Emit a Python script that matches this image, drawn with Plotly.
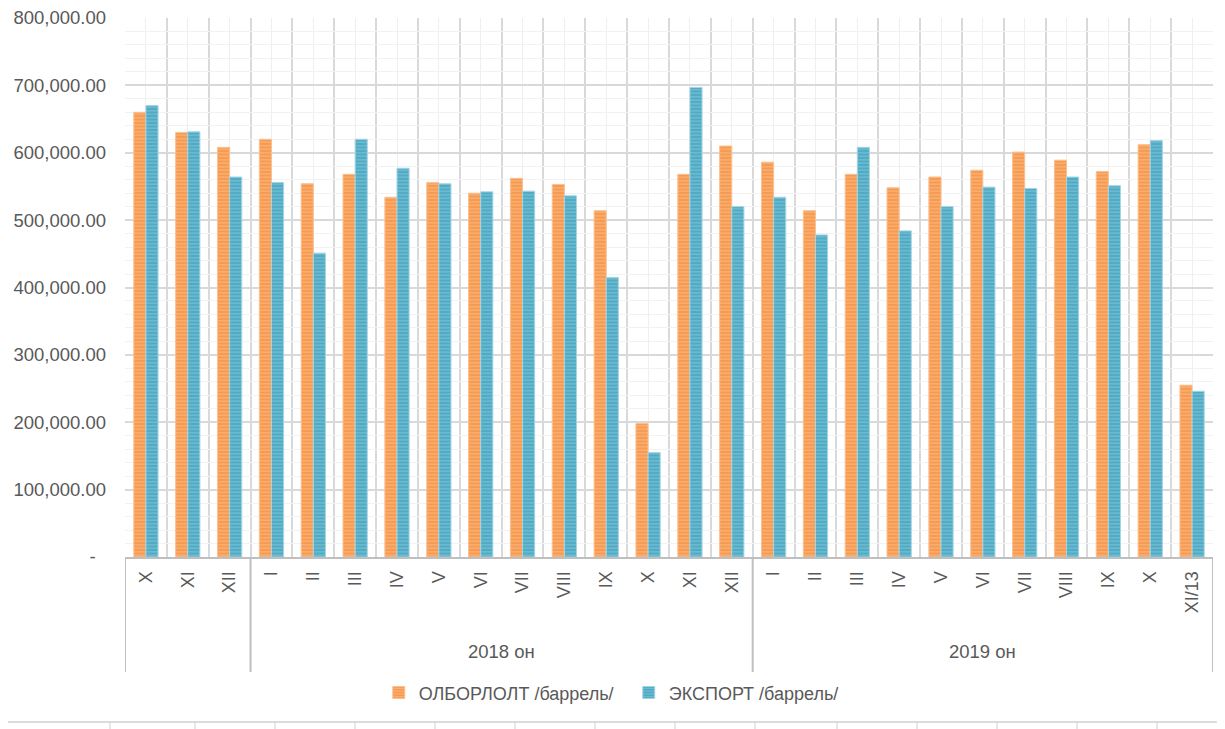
import plotly.graph_objects as go

categories = ["X", "XI", "XII",
              "I", "II", "III", "IV", "V", "VI", "VII", "VIII", "IX", "X", "XI", "XII",
              "I", "II", "III", "IV", "V", "VI", "VII", "VIII", "IX", "X", "XI/13"]
production = [660000, 630000, 608000,
              620000, 554000, 568000, 534000, 556000, 540000, 562000, 553000, 514000, 198000, 568000, 610000,
              586000, 514000, 568000, 548000, 564000, 574000, 601000, 589000, 572000, 612000, 255000]
export = [670000, 631000, 564000,
          556000, 451000, 620000, 577000, 554000, 542000, 543000, 536000, 415000, 155000, 697000, 520000,
          534000, 478000, 608000, 484000, 520000, 549000, 547000, 564000, 551000, 618000, 246000]
series_names = ["ОЛБОРЛОЛТ /баррель/", "ЭКСПОРТ /баррель/"]
groups = [("", 0, 2), ("2018 он", 3, 14), ("2019 он", 15, 25)]
y_ticks = [0, 100000, 200000, 300000, 400000, 500000, 600000, 700000, 800000]

y_ticktext = ["-\u00a0\u00a0"] + [f"{v:,.2f}" for v in y_ticks[1:]]
idx = list(range(len(categories)))

TXT = "#595959"
FONT = "Arial, Liberation Sans, sans-serif"

fig = go.Figure()
fig.add_trace(go.Bar(
    x=idx, y=production, name=series_names[0],
    marker=dict(color="#F79646",
                line=dict(color="#FAC090", width=1),
                pattern=dict(shape="-", fgcolor="#FBCDA6", bgcolor="#F79A50", size=3.5, solidity=0.35)),
))
fig.add_trace(go.Bar(
    x=idx, y=export, name=series_names[1],
    marker=dict(color="#4BACC6",
                line=dict(color="#A5D5E3", width=1),
                pattern=dict(shape="-", fgcolor="#9FD2E1", bgcolor="#4FAAC4", size=3.5, solidity=0.35)),
))

n = len(categories)
fig.update_layout(
    width=1217, height=721,
    margin=dict(l=117, r=12, t=10, b=172, autoexpand=False),
    paper_bgcolor="white", plot_bgcolor="white",
    barmode="group", bargap=0.42, bargroupgap=0,
    font=dict(family=FONT, color=TXT, size=18),
    showlegend=True,
    legend=dict(orientation="h", x=0.463, xanchor="center", y=-0.252, yanchor="middle",
                font=dict(size=18, color=TXT), itemwidth=30, traceorder="normal",
                entrywidth=205, entrywidthmode="pixels"),
    xaxis=dict(
        range=[-0.5, n - 0.5], tickmode="array", tickvals=idx, ticktext=categories,
        tickangle=-90, tickfont=dict(size=18, color=TXT), automargin=False,
        ticklabelstandoff=5,
        showgrid=True, gridcolor="#EFEFEF", gridwidth=1,
        minor=dict(tick0=-0.5, dtick=1, showgrid=True, gridcolor="#D9D9D9", gridwidth=1.5),
        showline=True, linecolor="#BFBFBF", linewidth=2, ticks="", zeroline=False,
        fixedrange=True,
    ),
    yaxis=dict(
        range=[0, 800000], tickmode="array", tickvals=y_ticks, ticktext=y_ticktext,
        tickfont=dict(size=18.5, color=TXT), ticklabelstandoff=18, automargin=False,
        ticklabeloverflow="allow",
        showgrid=True, gridcolor="#D9D9D9", gridwidth=1.5,
        minor=dict(dtick=20000, showgrid=True, gridcolor="#F2F2F2", gridwidth=1),
        zeroline=False, showline=False, ticks="",
    ),
)

# group dividers below the category axis
for b in [-0.5, 2.5, 14.5, n - 0.5]:
    fig.add_shape(type="line", xref="x", yref="paper", x0=b, x1=b, y0=0, y1=-0.2134,
                  line=dict(color="#BFBFBF", width=2))

# group labels
for name, a, b in groups:
    if name:
        fig.add_annotation(x=(a + b) / 2, y=-0.176, xref="x", yref="paper", text=name,
                           showarrow=False, font=dict(size=18.5, color=TXT), yanchor="middle")

# spreadsheet cell lines below the chart
fig.add_shape(type="line", xref="paper", yref="paper", x0=-0.12, x1=1.02, y0=-0.306, y1=-0.306,
              line=dict(color="#D0D0D0", width=1.5))
for px in [110, 195, 275, 355, 435, 515, 595, 675, 755, 837, 917, 997, 1077, 1157]:
    xp = (px - 125) / 1088
    fig.add_shape(type="line", xref="paper", yref="paper", x0=xp, x1=xp, y0=-0.306, y1=-0.33,
                  line=dict(color="#D0D0D0", width=1))

fig.write_html("out.html")
